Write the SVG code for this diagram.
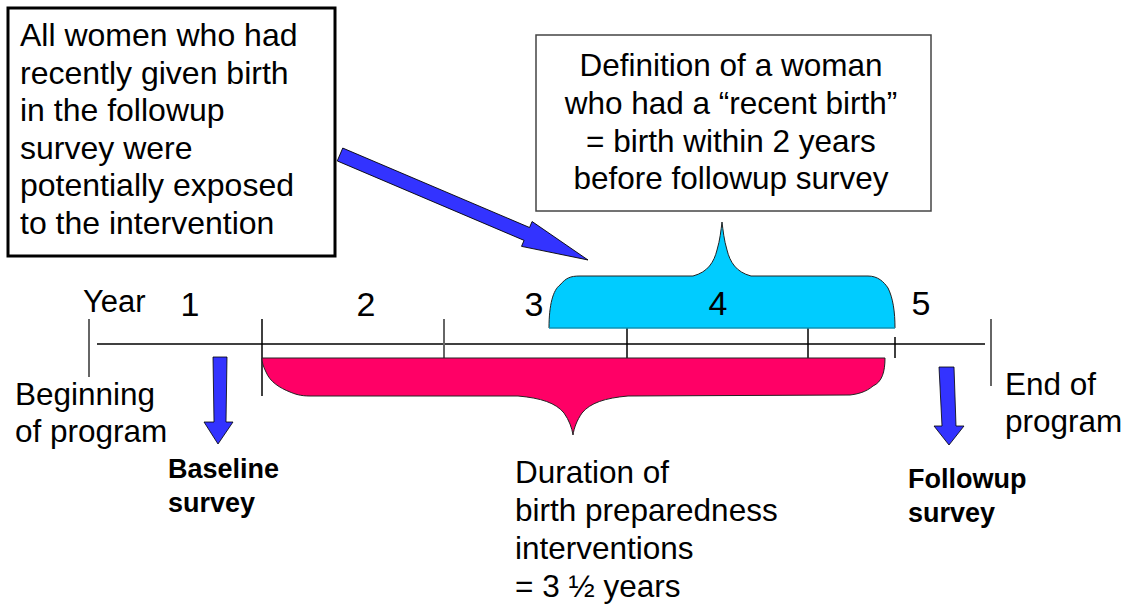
<svg xmlns="http://www.w3.org/2000/svg" width="1125" height="607" viewBox="0 0 1125 607">
<style>
text{font-family:"Liberation Sans",Arial,sans-serif;fill:#000}
.t{font-size:31.5px}
.d{font-size:34px}
.b{font-size:27px;font-weight:bold}
.tick{stroke:#000;stroke-width:1.5}
.tickg{stroke:#666;stroke-width:2}
.arrow{fill:#3333FF;stroke:#000;stroke-width:0.8}
</style>
<rect width="1125" height="607" fill="#fff"/>

<g id="box-exposed">
<rect x="8" y="8" width="327" height="248" fill="#fff" stroke="#000" stroke-width="3"/>
<text class="t" x="20" y="46" style="font-size:32px">All women who had</text>
<text class="t" x="20" y="83.5" style="font-size:32px">recently given birth</text>
<text class="t" x="20" y="121" style="font-size:32px">in the followup</text>
<text class="t" x="20" y="158.5" style="font-size:32px">survey were</text>
<text class="t" x="20" y="196" style="font-size:32px">potentially exposed</text>
<text class="t" x="20" y="233.5" style="font-size:32px">to the intervention</text>
</g>

<g id="box-definition">
<rect x="536" y="35" width="395" height="176" fill="#fff" stroke="#444" stroke-width="1.5"/>
<text class="t" x="731" y="76" text-anchor="middle">Definition of a woman</text>
<text class="t" x="731" y="114" text-anchor="middle">who had a “recent birth”</text>
<text class="t" x="731" y="152" text-anchor="middle">= birth within 2 years</text>
<text class="t" x="731" y="189" text-anchor="middle">before followup survey</text>
</g>

<g id="timeline">
<line x1="97" y1="344" x2="985" y2="344" stroke="#000" stroke-width="1.5"/>
<line class="tickg" x1="89" y1="319" x2="89" y2="377"/>
<line class="tick" x1="262" y1="319" x2="262" y2="396"/>
<line class="tickg" x1="444" y1="319" x2="444" y2="358"/>
<line class="tick" x1="627" y1="319" x2="627" y2="358"/>
<line class="tick" x1="808" y1="319" x2="808" y2="358"/>
<line class="tick" x1="895" y1="337" x2="895" y2="358"/>
<line class="tickg" x1="991" y1="319" x2="991" y2="386"/>
<text class="t" x="83" y="312" style="font-size:31px">Year</text>
<text class="d" x="190" y="316" text-anchor="middle">1</text>
<text class="d" x="366" y="316" text-anchor="middle">2</text>
<text class="d" x="534" y="316" text-anchor="middle">3</text>
<text class="d" x="921" y="315" text-anchor="middle">5</text>
</g>

<g id="brace-recent">
<path d="M549,328 C549,305 553,290 560,285 C566,278 570,276 580,276 L693,276 C708,272 714,262 717,250 C720,240 721,230 722,222 C723,230 724,240 727,250 C730,262 736,272 751,276 L868,276 C878,276 884,282 888,288 C893,298 895,312 895,328 Z" fill="#00CCFF" stroke="#222" stroke-width="1"/>
<line x1="549" y1="328" x2="895" y2="328" stroke="#00CCFF" stroke-width="1.2"/>
<text class="d" x="718" y="315" text-anchor="middle">4</text>
</g>

<g id="brace-duration">
<path d="M262,358 L885,358 C885,372 882,382 873,386 C866,392 858,394 850,395 L628,396 C605,398 590,403 582,413 C577,420 574,428 573,435 C572,428 569,420 564,413 C556,403 541,398 518,396 L310,396 C300,396 295,394 290,392 C280,388 270,382 266,372 C263,366 262,362 262,358 Z" fill="#FF0066" stroke="#222" stroke-width="1"/>
</g>

<g id="label-beginning">
<text class="t" x="15" y="405">Beginning</text>
<text class="t" x="15" y="442">of program</text>
</g>
<g id="label-end">
<text class="t" x="1005" y="395">End of</text>
<text class="t" x="1005" y="432">program</text>
</g>
<g id="label-baseline">
<text class="b" x="168" y="478">Baseline</text>
<text class="b" x="168" y="512">survey</text>
</g>
<g id="label-followup">
<text class="b" x="908" y="488">Followup</text>
<text class="b" x="908" y="522">survey</text>
</g>
<g id="label-duration">
<text class="t" x="515" y="483">Duration of</text>
<text class="t" x="515" y="521">birth preparedness</text>
<text class="t" x="515" y="559">interventions</text>
<text class="t" x="515" y="597">= 3 ½ years</text>
</g>

<g id="connectors">
<polygon class="arrow" transform="translate(340,154.5) rotate(23.04)" points="0,-7 203,-7 203,-13.5 269.5,0 203,13.5 203,7 0,7"/>
<polygon class="arrow" points="213,357 227,357 226,422 233,422 218,444 204,422 214,422"/>
<polygon class="arrow" points="939,367 954,367 956,426 964,426 949,445 934,426 942,426"/>
</g>
</svg>
